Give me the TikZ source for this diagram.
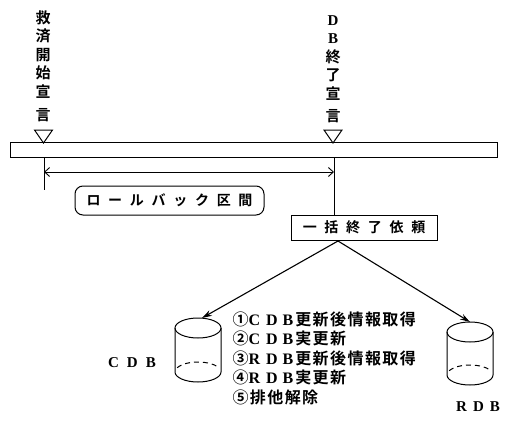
\documentclass[tikz,border=0pt]{standalone}
\usepackage{fontspec}
\newfontfamily\jp{Noto Sans CJK JP}[BoldFont=* Bold]
\newfontfamily\jplist{Noto Sans CJK JP}[BoldFont=* Bold, LetterSpace=9]
\newfontfamily\jpbox{Noto Sans CJK JP}[BoldFont=* Bold, LetterSpace=55]
\newfontfamily\lat{Liberation Serif}
\usetikzlibrary{arrows.meta}
\newcommand\lt[1]{{\lat\bfseries #1}}
\begin{document}
\begin{tikzpicture}[x=1pt,y=-1pt,line width=1pt,
  vtext/.style={font=\jp\bfseries\fontsize{15}{18.5}\selectfont, align=center, inner sep=0pt, anchor=north},
  boxtext/.style={draw, font=\jpbox\bfseries\fontsize{14}{16}\selectfont, inner sep=0pt},
  listtext/.style={font=\jplist\bfseries\fontsize{16}{18}\selectfont, inner sep=0pt, anchor=west},
  dblabel/.style={font=\lat\bfseries\fontsize{15}{18}\selectfont, inner sep=0pt},
  tri/.style={line width=1pt, line join=miter},
  dbarrow/.style={-{Stealth[length=10pt,width=6pt]}, line width=1.1pt},
  spanarrow/.style={{Straight Barb[length=5pt,width=9pt]}-{Straight Barb[length=5pt,width=9pt]}, line width=0.9pt}]
\useasboundingbox (0,0) rectangle (505,425);

% vertical labels
\node[vtext] (ltext) at (43,10) {救\\済\\開\\始\\宣\\[5pt]言};
\node[vtext] (rtext) at (333,15) {\lt{D}\\\lt{B}\\終\\了\\宣\\[4pt]言};

% triangles
\draw[tri] (34.5,130) -- (52.5,130) -- (43.5,143) -- cycle;
\draw[tri] (324,130) -- (342,130) -- (333,143) -- cycle;

% bar
\node[draw, minimum width=487pt, minimum height=15pt, inner sep=0pt] (bar) at (253.5,150) {};

% rollback interval
\coordinate (lstart) at (44,157);
\coordinate (lend) at (44,190);
\draw (lstart) -- (lend);
\coordinate (sa) at (44,172);
\coordinate (sb) at (334,172);
\draw[spanarrow] (sa) -- (sb);

\node[boxtext, rounded corners=8pt, minimum width=189pt, minimum height=29pt] (rb) at (169.5,200.5) {ロールバック区間\hspace{-7pt}};

\node[boxtext, minimum width=146pt, minimum height=25pt] (req) at (364,227.5) {一括終了依頼\hspace{-7pt}};
\coordinate (rstart) at (334,157);
\draw (rstart) -- (req.north -| rstart);

% arrows to DBs
\coordinate (apex) at (338,241);
\coordinate (ctop) at (202,318);
\coordinate (rtop) at (470,322);
\draw[dbarrow] (apex) -- (ctop);
\draw[dbarrow] (apex) -- (rtop);

% CDB cylinder
\draw (198,328) ellipse [x radius=23, y radius=10];
\draw (175,328) -- (175,372) arc [start angle=180, end angle=0, x radius=23, y radius=10] -- (221,328);
\draw[dash pattern=on 5pt off 4pt] (198,372) ++(205:23 and 10) arc [start angle=205, end angle=335, x radius=23, y radius=10];

% RDB cylinder
\draw (470,332) ellipse [x radius=23, y radius=10];
\draw (447,332) -- (447,375) arc [start angle=180, end angle=0, x radius=23, y radius=10] -- (493,332);
\draw[dash pattern=on 5pt off 4pt] (470,375) ++(205:23 and 10) arc [start angle=205, end angle=335, x radius=23, y radius=10];

\node[dblabel] (cdb) at (132,363) {C\hspace{8pt}D\hspace{8pt}B};
\node[dblabel] (rdb) at (478,407) {R\hspace{6pt}D\hspace{6pt}B};

% steps
\node[listtext] (s1) at (232,319) {①\lt{C\hspace{6pt}D\hspace{5pt}B}\hspace{2pt}更新後情報取得};
\node[listtext] (s2) at (232,338.5) {②\lt{C\hspace{6pt}D\hspace{5pt}B}\hspace{2pt}実更新};
\node[listtext] (s3) at (232,358) {③\lt{R\hspace{6pt}D\hspace{5pt}B}\hspace{2pt}更新後情報取得};
\node[listtext] (s4) at (232,377.5) {④\lt{R\hspace{6pt}D\hspace{5pt}B}\hspace{2pt}実更新};
\node[listtext] (s5) at (232,397) {⑤排他解除};
\end{tikzpicture}
\end{document}
